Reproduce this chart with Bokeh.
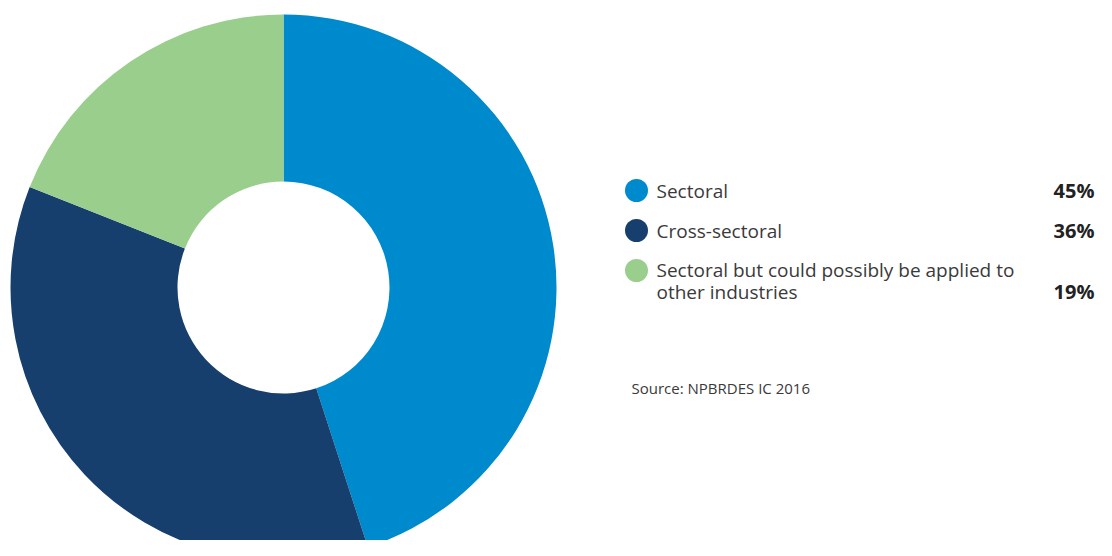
from bokeh.plotting import figure
from bokeh.models import ColumnDataSource, Range1d
from bokeh.core.properties import value
from bokeh.embed import file_html
from bokeh.resources import INLINE
import math

categories = ["Sectoral", "Cross-sectoral", "Sectoral but could possibly be applied to\nother industries"]
shares = [45, 36, 19]
share_labels = ["45%", "36%", "19%"]
colors = ["#008ACE", "#173F6E", "#9ACE8C"]
source_note = "Source: NPBRDES IC 2016"

W, H = 1096, 540
p = figure(width=W, height=H, output_backend="svg", toolbar_location=None,
           x_range=Range1d(0, W), y_range=Range1d(0, H), min_border=0,
           outline_line_color=None)
p.axis.visible = False
p.grid.visible = False
p.background_fill_color = "white"
p.border_fill_color = "white"

total = sum(shares)
starts, ends = [], []
acc = 0.0
for s in shares:
    a0 = math.pi / 2 - 2 * math.pi * acc / total
    acc += s
    a1 = math.pi / 2 - 2 * math.pi * acc / total
    starts.append(a0)
    ends.append(a1)

cx, cy = 283, 253
src = ColumnDataSource(dict(start=starts, end=ends, color=colors))
p.annular_wedge(x=cx, y=cy, inner_radius=106, outer_radius=273,
                start_angle="start", end_angle="end", direction="clock",
                fill_color="color", line_color=None, source=src)

# legend markers
marker_ys = [350, 310, 270]
p.scatter(x=[636] * 3, y=marker_ys, size=23, marker="circle", fill_color=colors, line_color=None)

# legend labels (multi-line labels split into separate lines)
line_step = 22
tx, ty, tt = [], [], []
pct_ys = []
for lab, y0 in zip(categories, [350, 310, 271]):
    lines = lab.split("\n")
    for i, ln in enumerate(lines):
        tx.append(656)
        ty.append(y0 - i * line_step)
        tt.append(ln)
    pct_ys.append(y0 - (len(lines) - 1) * line_step)

p.text(x=tx, y=ty, text=tt, text_baseline="middle",
       text_align="left", text_font=value("Open Sans"), text_font_size="19px",
       text_color="#3a3a3a")
p.text(x=[1094] * 3, y=pct_ys, text=share_labels, text_baseline="middle",
       text_align="right", text_font=value("Open Sans"), text_font_size="20px",
       text_font_style="bold", text_color="#222222")

p.text(x=[631], y=[153], text=[source_note], text_baseline="middle",
       text_align="left", text_font=value("Open Sans"), text_font_size="15px",
       text_color="#3a3a3a")

open("out.html", "w").write(file_html(p, INLINE))
